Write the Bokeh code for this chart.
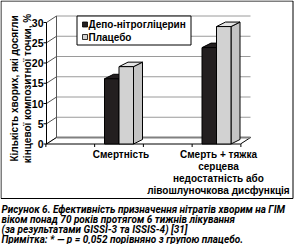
import numpy as np
from bokeh.plotting import figure
from bokeh.models import Range1d
from bokeh.core.properties import value
from bokeh.embed import file_html
from bokeh.resources import INLINE

# ---------------- data ----------------
categories = ["Смертність",
              "Смерть + тяжка|серцева|недостатність або|лівошлуночкова дисфункція"]
series_names = ["Депо-нітрогліцерин", "Плацебо"]
depo = [16.1, 23.8]
placebo = [19.1, 29.0]
y_ticks = [0, 5, 10, 15, 20, 25, 30]
y_title = ["Кількість хворих, які досягли", "кінцевої композитної точки, %"]
caption = ["Рисунок 6. Ефективність призначення нітратів хворим на ГІМ",
           "віком понад 70 років протягом 6 тижнів лікування",
           "(за результатами GISSI-3 та ISSIS-4) [31]",
           "Примітка: * — р = 0,052 порівняно з групою плацебо."]

# ---------------- layout (pixel geometry) ----------------
W, H = 294, 244
SX = 97.5      # px per category step
SY = 4.05      # px per percent
X0PX = 118.5   # pixel x of first category
Y0PX = 143.5   # pixel y of 0 %

xs = -X0PX / SX
xe = xs + W / SX
ye = Y0PX / SY
ys = ye - H / SY

def px(x):
    return xs + x / SX

def py(y):
    return ye - y / SY

DXW, DYW = 10 / SX, 6.5 / SY     # wall depth
DXB, DYB = 9 / SX, 4.5 / SY      # bar depth
BW = 14.5 / SX                   # bar width
XA = px(46)                      # front axis x
XR = px(240)                     # floor front right
FONT = value("Liberation Sans")
CFONT = value("Roboto")

p = figure(width=W, height=H, x_range=Range1d(xs, xe), y_range=Range1d(ys, ye),
           output_backend="svg", toolbar_location=None,
           x_axis_location=None, y_axis_location=None, min_border=0)
p.grid.visible = False
p.outline_line_color = None
p.background_fill_color = "white"
p.border_fill_color = "white"

# outer frame
p.quad(left=[px(0.5)], right=[px(292.5)], top=[py(0.5)], bottom=[py(198)],
       fill_color="white", line_color="black", line_width=1)

ymax = y_ticks[-1]
# back wall gridlines
p.segment(x0=[XA + DXW] * len(y_ticks), y0=[t + DYW for t in y_ticks],
          x1=[XR + DXW] * len(y_ticks), y1=[t + DYW for t in y_ticks],
          line_color="#9a9a9a", line_width=1)
# side wall gridlines (diagonals)
p.segment(x0=[XA] * len(y_ticks), y0=y_ticks,
          x1=[XA + DXW] * len(y_ticks), y1=[t + DYW for t in y_ticks],
          line_color="#555555", line_width=1)
# floor
p.patch(x=[XA, XR, XR + DXW, XA + DXW], y=[0, 0, DYW, DYW],
        fill_color="white", line_color="black", line_width=1)
p.segment(x0=[XA + DXW], y0=[DYW], x1=[XR + DXW], y1=[DYW],
          line_color="#808080", line_width=2)
# back wall left edge
p.segment(x0=[XA + DXW], y0=[DYW], x1=[XA + DXW], y1=[ymax + DYW],
          line_color="#555555", line_width=1)
# front y axis & ticks
p.segment(x0=[XA], y0=[0], x1=[XA], y1=[ymax], line_color="black", line_width=1)
p.segment(x0=[XA - 3 / SX] * len(y_ticks), y0=y_ticks,
          x1=[XA] * len(y_ticks), y1=y_ticks, line_color="black", line_width=1)
# x-axis ticks
xt = [i * 0.5 - 0.75 for i in range(5)]
p.segment(x0=xt, y0=[0] * 5, x1=xt, y1=[-3 / SY] * 5, line_color="black", line_width=1)

# ---------------- 3D bars ----------------
def bar_faces(x_left, v):
    xr = x_left + BW
    front = ([x_left, xr, xr, x_left], [0, 0, v, v])
    top = ([x_left, xr, xr + DXB, x_left + DXB], [v, v, v + DYB, v + DYB])
    side = ([xr, xr + DXB, xr + DXB, xr], [0, DYB, v + DYB, v])
    return front, top, side

styles = [("#231f20", "#231f20", "#231f20"), ("#d2d2d2", "#e4e4e4", "#c4c4c4")]
for ci in range(len(categories)):
    for si, vals in enumerate([depo, placebo]):
        xl = ci - BW if si == 0 else ci
        front, top, side = bar_faces(xl, vals[ci])
        fc, tc, sc = styles[si]
        p.patch(x=side[0], y=side[1], fill_color=sc, line_color="black", line_width=1)
        p.patch(x=top[0], y=top[1], fill_color=tc, line_color="black", line_width=1)
        p.patch(x=front[0], y=front[1], fill_color=fc, line_color="black", line_width=1)

# ---------------- texts ----------------
# y tick labels
p.text(x=[px(43)] * len(y_ticks), y=y_ticks, text=[str(t) for t in y_ticks],
       text_font=FONT, text_font_style="bold", text_font_size="10.5px",
       text_align="right", text_baseline="middle", text_color="black")

# y title (rotated)
p.text(x=[px(14), px(27)], y=[py(88), py(88)], text=y_title, angle=np.pi / 2,
       text_font=FONT, text_font_style="bold", text_font_size="10px",
       text_align="center", text_baseline="middle", text_color="black")

# category labels
lx, ly, lt = [], [], []
for ci, c in enumerate(categories):
    for li, line in enumerate(c.split("|")):
        lx.append(ci + 0.02)
        ly.append(py(154 + 12 * li))
        lt.append(line)
p.text(x=lx, y=ly, text=lt, text_font=FONT, text_font_style="bold",
       text_font_size="10px", text_align="center", text_baseline="middle",
       text_color="black")

# legend
p.quad(left=[px(76.5)], right=[px(190.5)], top=[py(15.5)], bottom=[py(44.5)],
       fill_color="white", line_color="black", line_width=1)
leg_y = [py(24), py(36.5)]
p.scatter(x=[px(84.5)] * 2, y=leg_y, marker="square", size=5,
          fill_color=[styles[0][0], "#d2d2d2"], line_color="black", line_width=0.8)
p.text(x=[px(88)] * 2, y=leg_y, text=series_names, text_font=FONT,
       text_font_style="bold", text_font_size="10px", text_align="left",
       text_baseline="middle", text_color="black")

# caption
p.text(x=[px(1)] * len(caption), y=[py(209 + 10 * i) for i in range(len(caption))],
       text=caption, text_font=CFONT, text_font_style="bold italic",
       text_font_size="10px", text_align="left", text_baseline="middle",
       text_color="black")

open("out.html", "w").write(file_html(p, INLINE))
